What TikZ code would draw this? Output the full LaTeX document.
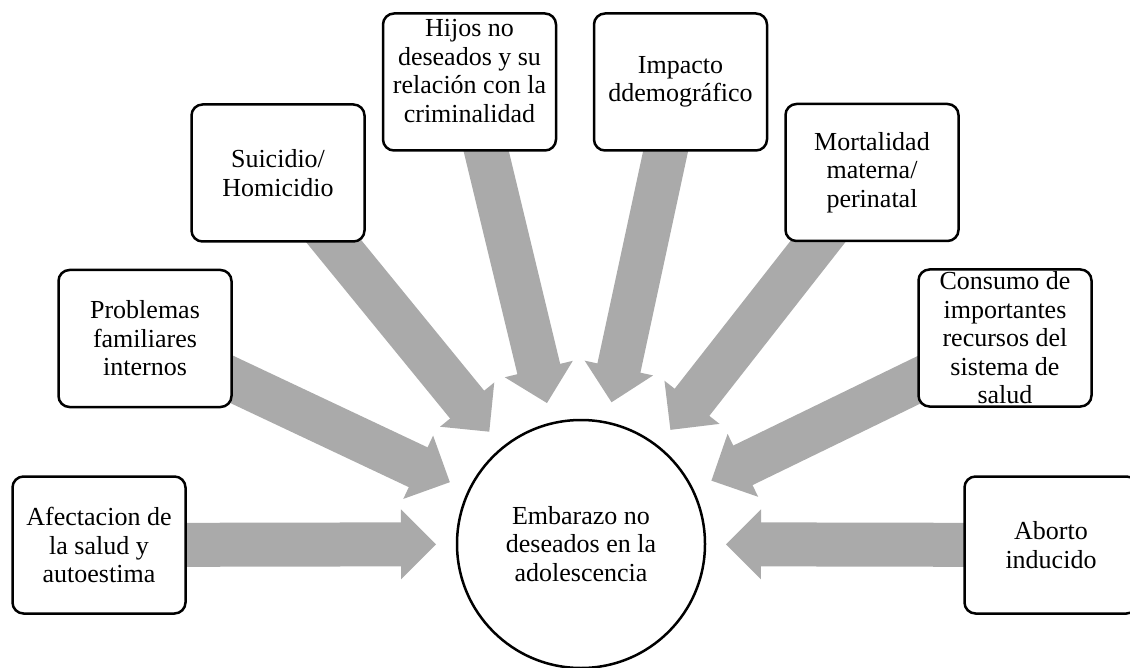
\documentclass[tikz,border=0pt]{standalone}
\usepackage{fontspec}
\setmainfont{Liberation Serif}
\usetikzlibrary{calc,backgrounds}
\definecolor{arrowgray}{RGB}{170,170,170}
\begin{document}
\begin{tikzpicture}[x=1pt,y=-1pt,
  box/.style={draw=black, line width=2.5pt, rounded corners=11pt, fill=white,
    minimum width=173pt, minimum height=137pt, inner sep=0pt},
  txt/.style={align=center, font=\fontsize{26}{28.5}\selectfont, inner sep=0pt},
  hub/.style={draw=black, line width=2.5pt, circle, fill=white,
    minimum size=248pt, inner sep=0pt},
  shaft/.style={draw=arrowgray, line width=44pt},
  headfill/.style={fill=arrowgray}]
\useasboundingbox (0,0) rectangle (1130,668);
\clip (0,0) rectangle (1130,668);

\node[hub] (hub) at (581,544) {};
\node[txt] (thub) at (581,544) {Embarazo no\\deseados en la\\adolescencia};

\node[box] (b1) at (99,545) {};
\node[box] (b2) at (145,338.5) {};
\node[box] (b3) at (278,173) {};
\node[box] (b4) at (469.5,82) {};
\node[box] (b5) at (680.5,82) {};
\node[box] (b6) at (872,172.5) {};
\node[box] (b7) at (1005,338) {};
\node[box] (b8) at (1051,545) {};

\node[txt] (t1) at (b1) {Afectacion de\\la salud y\\autoestima};
\node[txt] (t2) at (b2) {Problemas\\familiares\\internos};
\node[txt] (t3) at (b3) {Suicidio/\\Homicidio};
\node[txt] (t4) at (469.5,71) {Hijos no\\deseados y su\\relación con la\\criminalidad};
\node[txt] (t5) at (b5) {Impacto\\ddemográfico};
\node[txt] (t6) at (b6) {Mortalidad\\materna/\\perinatal};
\node[txt] (t7) at (b7) {Consumo de\\importantes\\recursos del\\sistema de\\salud};
\node[txt] (t8) at (b8) {Aborto\\inducido};

\begin{pgfonlayer}{background}
\foreach \b in {b1,b2,b3,b4,b5,b6,b7,b8}{
  \coordinate (tip) at ($(hub.center)!145pt!(\b.center)$);
  \coordinate (base) at ($(hub.center)!180pt!(\b.center)$);
  \coordinate (sh) at ($(hub.center)!177pt!(\b.center)$);
  \draw[shaft] (\b.center) -- (sh);
  \fill[headfill] (tip) -- ($(base)!35pt!90:(tip)$) -- ($(base)!35pt!-90:(tip)$) -- cycle;
}
\end{pgfonlayer}
\end{tikzpicture}
\end{document}
